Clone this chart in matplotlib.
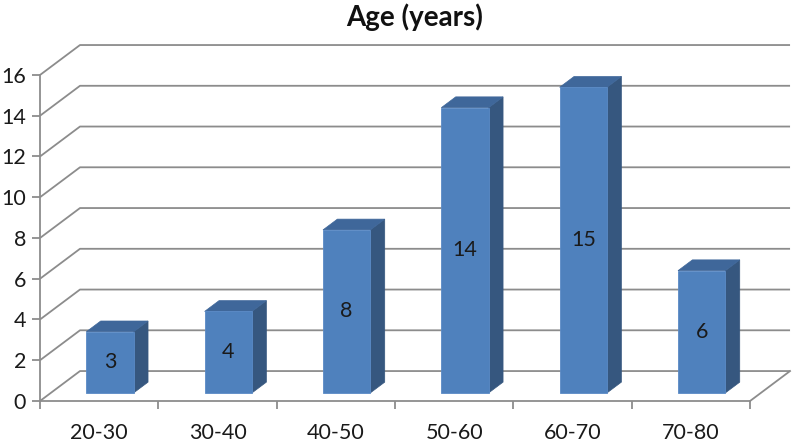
import matplotlib.pyplot as plt
import numpy as np
from matplotlib.patches import Polygon

plt.rcParams['font.family'] = ['Lato', 'DejaVu Sans']

# Data
age_groups = ['20-30', '30-40', '40-50', '50-60', '60-70', '70-80']
counts = [3, 4, 8, 14, 15, 6]
y_ticks = [0, 2, 4, 6, 8, 10, 12, 14, 16]

# Colours (Excel 2007 style)
front_color = '#4F81BD'
top_color = '#3F679A'
side_color = '#36577F'
grid_color = '#8C8C8C'

# Fake 3D depth, in data units
depth_dx = 0.338
depth_dy = 1.47
bar_front = 0.27   # fraction of the depth where the bar face sits
bar_back = 0.63
bar_lo, bar_hi = 0.30, 0.70

fig = plt.figure(figsize=(7.93, 4.42), dpi=100)
ax = fig.add_axes([0, 0, 1, 1])
ax.set_xlim(-0.338, 6.363)
ax.set_ylim(-2.012, 19.68)
ax.patch.set_visible(False)

n = len(age_groups)

# Back wall gridlines with the slanted side-wall segment
for v in y_ticks:
    ax.plot([0, depth_dx, n + depth_dx], [v, v + depth_dy, v + depth_dy],
            color=grid_color, lw=1.3, zorder=1, solid_capstyle='butt')

# Floor right edge
ax.plot([n, n + depth_dx], [0, depth_dy], color=grid_color, lw=1.3, zorder=1)

# Bars
for i, v in enumerate(counts):
    fx, fy = bar_front * depth_dx, bar_front * depth_dy
    bx, by = bar_back * depth_dx, bar_back * depth_dy
    x0, x1 = i + bar_lo, i + bar_hi
    side = Polygon([(x1 + fx, fy), (x1 + bx, by), (x1 + bx, v + by), (x1 + fx, v + fy)],
                   closed=True, facecolor=side_color, edgecolor=side_color, lw=0.5, zorder=3)
    top = Polygon([(x0 + fx, v + fy), (x1 + fx, v + fy), (x1 + bx, v + by), (x0 + bx, v + by)],
                  closed=True, facecolor=top_color, edgecolor=top_color, lw=0.5, zorder=3)
    front = Polygon([(x0 + fx, fy), (x1 + fx, fy), (x1 + fx, v + fy), (x0 + fx, v + fy)],
                    closed=True, facecolor=front_color, edgecolor='#5A8AC6', lw=0.6, zorder=4)
    ax.add_patch(side)
    ax.add_patch(top)
    ax.add_patch(front)
    ax.text((x0 + x1) / 2 + fx, fy + v / 2, str(v), ha='center', va='center',
            fontsize=15.5, color='#1A1A1A', zorder=5)

# Axes spines
for s in ['top', 'right']:
    ax.spines[s].set_visible(False)
ax.spines['left'].set_position(('data', 0))
ax.spines['bottom'].set_position(('data', 0))
ax.spines['left'].set_bounds(0, 16)
ax.spines['bottom'].set_bounds(0, n)
for s in ['left', 'bottom']:
    ax.spines[s].set_color(grid_color)
    ax.spines[s].set_linewidth(1.3)

ax.set_yticks(y_ticks)
ax.set_yticklabels([str(t) for t in y_ticks])
ax.tick_params(axis='y', direction='out', length=6, width=1.3, color=grid_color,
               labelsize=15.5, labelcolor='#1A1A1A', pad=4)

ax.set_xticks(np.arange(n + 1))
ax.set_xticklabels([])
ax.set_xticks(np.arange(n) + 0.5, minor=True)
ax.set_xticklabels(age_groups, minor=True)
ax.tick_params(axis='x', which='major', direction='out', length=6, width=1.3, color=grid_color)
ax.tick_params(axis='x', which='minor', length=0, labelsize=15.5, labelcolor='#1A1A1A', pad=16)

fig.text(415 / 793, 1 - 17 / 442, 'Age (years)', ha='center', va='center',
         fontsize=20, fontweight='bold', color='#111111')

fig.savefig('out.png', dpi=100)
